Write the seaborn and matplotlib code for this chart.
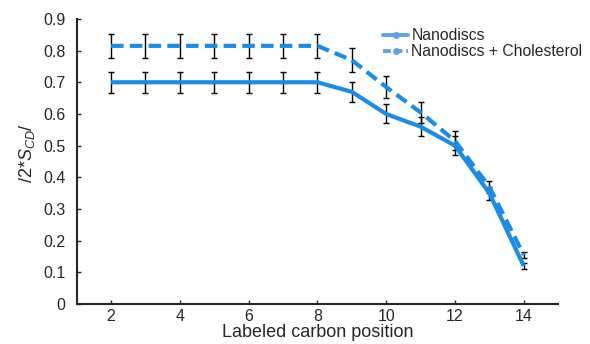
import seaborn as sns
import pandas as pd
import matplotlib
matplotlib.use("Agg")
import matplotlib.pyplot as plt
from matplotlib.lines import Line2D

# data
carbon = [2, 3, 4, 5, 6, 7, 8, 9, 10, 11, 12, 13, 14]
nanodiscs = [0.70, 0.70, 0.70, 0.70, 0.70, 0.70, 0.70, 0.67, 0.60, 0.56, 0.50, 0.35, 0.12]
nanodiscs_err = [0.034, 0.034, 0.034, 0.034, 0.034, 0.034, 0.034, 0.032, 0.03, 0.03, 0.03, 0.02, 0.01]
chol = [0.815, 0.815, 0.815, 0.815, 0.815, 0.815, 0.815, 0.77, 0.685, 0.605, 0.515, 0.37, 0.155]
chol_err = [0.038, 0.038, 0.038, 0.038, 0.038, 0.038, 0.038, 0.037, 0.035, 0.033, 0.03, 0.02, 0.01]
labels = ["Nanodiscs", "Nanodiscs + Cholesterol"]

sns.set_style("ticks")
plt.rcParams['font.family'] = ['Liberation Sans', 'DejaVu Sans']
plt.rcParams['mathtext.fontset'] = 'custom'
plt.rcParams['mathtext.it'] = 'Liberation Sans:italic'
plt.rcParams['mathtext.rm'] = 'Liberation Sans'

df = pd.DataFrame({
    "carbon": carbon * 2,
    "value": nanodiscs + chol,
    "sample": [labels[0]] * len(carbon) + [labels[1]] * len(carbon),
})

blue = "#1a8ce8"
fig, ax = plt.subplots(figsize=(5.9, 3.44), dpi=100)
fig.subplots_adjust(left=0.13, right=0.946, bottom=0.116, top=0.945)

# error bars first, lines on top
ax.errorbar(carbon, nanodiscs, yerr=nanodiscs_err, fmt="none", ecolor="black",
            elinewidth=1.0, capsize=2.2, capthick=1.0, zorder=2)
ax.errorbar(carbon, chol, yerr=chol_err, fmt="none", ecolor="black",
            elinewidth=1.0, capsize=2.2, capthick=1.0, zorder=2)

sns.lineplot(data=df, x="carbon", y="value", style="sample", ax=ax,
             color=blue, linewidth=3.0, dashes=[(1, 0), (3, 1.5)],
             legend=False, zorder=3)

handles = [Line2D([], [], color="#5fa2ec", lw=2.8, marker="o", markersize=4),
           Line2D([], [], color="#5fa2ec", lw=2.8, marker="o", markersize=4, dashes=(2, 1))]
ax.legend(handles, labels, loc="upper right", bbox_to_anchor=(1.07, 1.0), frameon=False,
          fontsize=11.3, handlelength=1.6, handletextpad=0.2, labelspacing=0.05,
          borderaxespad=0.2)

ax.set_xlim(1, 15)
ax.set_ylim(0, 0.9)
ax.set_xticks([2, 4, 6, 8, 10, 12, 14])
ax.set_yticks([0, 0.1, 0.2, 0.3, 0.4, 0.5, 0.6, 0.7, 0.8, 0.9])
ax.set_yticklabels(["0", "0.1", "0.2", "0.3", "0.4", "0.5", "0.6", "0.7", "0.8", "0.9"])
ax.tick_params(direction="in", length=3, width=1, labelsize=11.5)
ax.tick_params(axis="y", pad=8)
for s in ["left", "bottom"]:
    ax.spines[s].set_linewidth(1.5)
sns.despine(ax=ax)

ax.set_xlabel("Labeled carbon position", fontsize=13, labelpad=0)
ax.set_ylabel(r"$/2{*}S_{CD}/$", fontsize=13)
ax.yaxis.set_label_coords(-0.083, 0.53)

plt.savefig("out.png", dpi=100)
